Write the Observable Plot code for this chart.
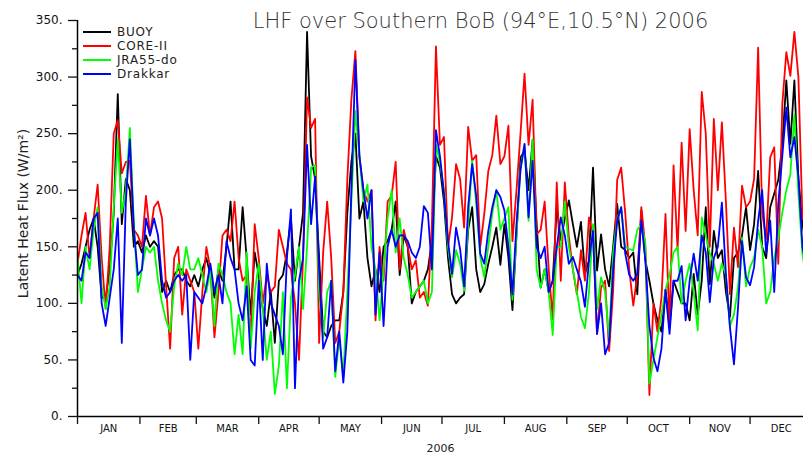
<!DOCTYPE html>
<html><head><meta charset="utf-8">
<script src="https://cdn.jsdelivr.net/npm/d3@7"></script>
<script src="https://cdn.jsdelivr.net/npm/@observablehq/plot@0.6"></script>
<style>
html,body{margin:0;padding:0;background:#fff;overflow:hidden}
#wrap{position:relative;width:803px;height:455px;overflow:hidden}
#legend{position:absolute;left:83px;top:25px;font-family:"DejaVu Sans",sans-serif;font-size:12px;letter-spacing:0.8px;color:#222;line-height:14px}
.row{display:flex;align-items:center;height:14px;white-space:nowrap}
.sw{width:28px;height:2px;margin-right:6px}
</style></head><body><div id="wrap"><div id="legend"></div></div>
<script>
const title = "LHF over Southern BoB (94°E,10.5°N) 2006";
const yLabel = "Latent Heat Flux (W/m²)";
const xLabel = "2006";
const monthStarts = [0,31,59,90,120,151,181,212,243,273,304,334];
const monthLabels = ["JAN","FEB","MAR","APR","MAY","JUN","JUL","AUG","SEP","OCT","NOV","DEC"];
const yTicks = [0,50,100,150,200,250,300,350];
const yMinor = [25,75,125,175,225,275,325];
const seriesNames = ["BUOY","CORE-II","JRA55-do","Drakkar"];
const seriesColors = ["#000000","#ff0000","#00ff00","#0000ff"];
const sampleStep = 2; // days between samples, starting 1 Jan

const buoy = [
125,135,150,165,175,150,105,105,130,180,
285,170,210,200,150,155,145,160,150,155,
150,110,120,110,125,130,130,120,115,125,
115,130,140,125,105,130,120,150,190,130,
130,185,140,90,145,125,95,80,110,65,
120,125,145,175,120,150,180,340,230,210,
140,75,70,80,85,85,110,180,225,250,
175,190,140,115,130,110,150,155,165,190,
125,160,150,100,110,115,120,130,155,230,
220,190,140,108,100,105,108,165,185,130,
110,117,135,150,167,134,170,140,94,160,
229,235,200,244,170,114,130,110,120,185,
156,175,191,170,150,172,126,138,220,129,
161,130,115,150,188,150,147,140,145,108,
182,138,120,100,85,75,112,79,120,110,
100,100,85,126,90,120,185,117,164,140,
147,110,88,140,145,160,185,147,170,217,
150,140,185,197,209,240,297,241,297,210,
170,150];

const core2 = [
135,160,180,140,175,205,140,95,150,250,
262,215,225,226,165,160,150,195,160,185,
190,175,115,60,140,150,90,130,120,110,
60,110,150,130,70,110,160,165,155,190,
140,120,125,70,170,140,100,125,110,115,
165,150,135,130,100,50,140,282,255,263,
65,145,190,140,65,75,110,210,280,323,
230,200,190,200,85,150,120,190,195,225,
130,165,150,130,138,105,110,98,170,327,
240,247,150,176,223,210,167,256,226,231,
150,179,217,231,266,223,230,257,155,200,
250,303,240,280,161,165,190,130,86,207,
120,207,159,130,108,147,120,176,160,73,
114,120,58,111,209,220,180,130,98,125,
185,150,19,100,75,105,179,80,222,147,
242,164,254,200,160,287,250,150,263,200,
260,190,108,167,132,204,185,190,210,326,
180,157,229,238,135,276,322,301,340,300,
175,170];

const jra55 = [
140,100,150,130,165,185,115,95,115,185,
245,180,200,255,170,110,130,150,145,150,
120,100,85,75,115,135,125,150,130,130,
140,125,110,130,80,135,125,110,100,55,
90,55,145,60,110,135,95,50,75,20,
45,110,25,105,125,150,95,150,220,222,
110,70,110,120,35,70,35,110,190,270,
230,190,205,150,130,85,130,175,200,145,
175,140,125,105,110,115,120,100,110,240,
225,200,150,123,147,135,111,170,226,188,
141,123,150,180,200,165,175,185,103,160,
220,240,173,245,130,114,130,110,72,150,
150,190,150,130,110,88,78,110,170,95,
123,110,70,145,173,185,150,148,147,165,
170,153,29,50,70,90,112,125,145,150,
100,120,135,110,76,176,160,144,135,120,
135,125,80,90,114,158,115,132,140,165,
150,100,110,140,158,180,200,214,267,197,
144,120];

const drakkar = [
125,120,145,140,175,180,100,80,105,130,
175,65,190,245,165,125,130,175,160,175,
160,120,105,110,120,125,120,125,50,110,
105,100,115,135,110,125,100,155,140,130,
100,85,115,50,45,120,50,135,100,90,
80,55,140,183,25,120,140,240,170,212,
130,60,70,120,40,75,30,75,200,315,
230,200,175,200,90,145,80,150,165,150,
160,160,155,145,140,150,186,180,130,253,
230,197,155,126,167,148,115,185,223,195,
144,135,164,185,200,194,182,150,108,170,
218,241,176,226,150,140,150,110,120,150,
176,160,135,141,130,119,97,138,164,73,
100,55,65,130,173,185,144,125,120,126,
173,138,80,52,40,60,112,73,120,120,
133,85,120,144,120,160,145,101,140,150,
189,126,79,46,96,155,123,116,132,173,
200,144,173,110,188,230,273,229,247,212,
150,130];

const allSeries = [buoy, core2, jra55, drakkar];
const rows = [];
allSeries.forEach((arr, i) => arr.forEach((v, k) => rows.push({day: k * sampleStep, value: v, series: seriesNames[i]})));

const monthEnds = monthStarts.slice(1).concat([365]);
const monthMids = monthStarts.map((s, i) => (s + monthEnds[i]) / 2);
const labelAt = new Map(monthMids.map((m, i) => [m, monthLabels[i]]));

const chart = Plot.plot({
  width: 803, height: 455,
  marginLeft: 77, marginRight: 0, marginTop: 20, marginBottom: 39,
  style: {fontFamily: "'DejaVu Sans', sans-serif", background: "#fff", color: "#111"},
  x: {domain: [0, 365], range: [77, 812]},
  y: {domain: [0, 350], range: [416, 20]},
  color: {domain: seriesNames, range: seriesColors},
  marks: [
    Plot.lineY(rows, {x: "day", y: "value", z: "series", stroke: "series", strokeWidth: 1.8, clip: true}),
    Plot.ruleX([0], {stroke: "#000", strokeWidth: 1.5}),
    Plot.ruleY([0], {stroke: "#000", strokeWidth: 1.5}),
    Plot.axisY(yTicks, {tickSize: 9, tickPadding: 6, tickFormat: d => d + ".", fontSize: 12, label: null, strokeWidth: 1.3}),
    Plot.axisY(yMinor, {tickSize: 5, tickFormat: () => "", label: null, strokeWidth: 1.3}),
    Plot.axisX(monthStarts, {tickSize: 8, tickFormat: () => "", label: null, strokeWidth: 1.3}),
    Plot.axisX(monthMids, {tickSize: 0, tickPadding: 8, tickFormat: d => labelAt.get(d), fontSize: 10, label: null}),
    Plot.text([xLabel], {frameAnchor: "bottom", lineAnchor: "middle", dy: 32, fontSize: 11, fill: "#222"}),
    Plot.text([title], {frameAnchor: "top", lineAnchor: "middle", dx: 40, dy: 1, fontSize: 21, fontWeight: 300, fill: "#333"}),
    Plot.text([yLabel], {frameAnchor: "left", textAnchor: "middle", lineAnchor: "middle", rotate: -90, dx: -54, dy: -5, fontSize: 14, fill: "#222"})
  ]
});
const wrap = document.getElementById("wrap");
wrap.insertBefore(chart, wrap.firstChild);

const legend = document.getElementById("legend");
seriesNames.forEach((name, i) => {
  const row = document.createElement("div");
  row.className = "row";
  const sw = document.createElement("div");
  sw.className = "sw";
  sw.style.background = seriesColors[i];
  const t = document.createElement("span");
  t.textContent = name;
  row.appendChild(sw); row.appendChild(t);
  legend.appendChild(row);
});
</script></body></html>
